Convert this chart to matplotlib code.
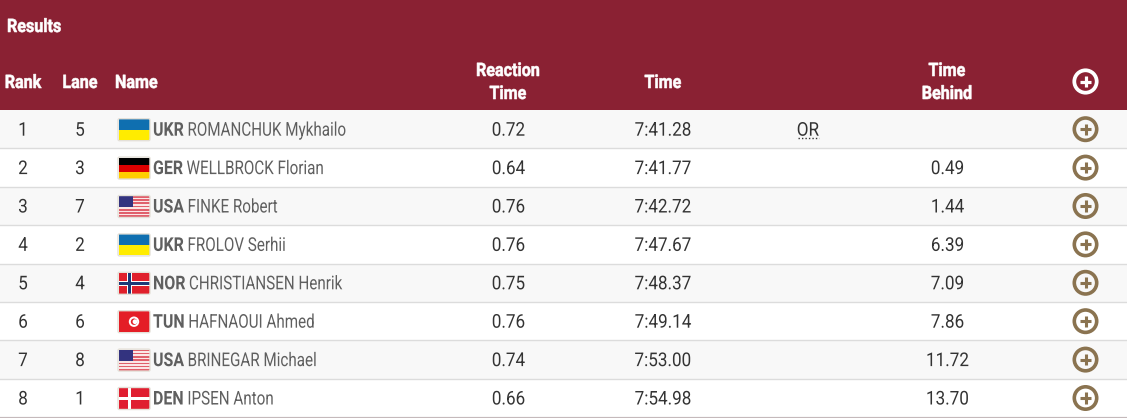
import matplotlib
matplotlib.use("Agg")
import matplotlib.pyplot as plt
from matplotlib.patches import Rectangle, Circle, FancyBboxPatch
from matplotlib.patheffects import AbstractPathEffect
from matplotlib.transforms import Affine2D

ranks = [1, 2, 3, 4, 5, 6, 7, 8]
lanes = [5, 3, 7, 2, 4, 6, 8, 1]
nocs = ["UKR", "GER", "USA", "UKR", "NOR", "TUN", "USA", "DEN"]
names = ["ROMANCHUK Mykhailo", "WELLBROCK Florian", "FINKE Robert", "FROLOV Serhii",
         "CHRISTIANSEN Henrik", "HAFNAOUI Ahmed", "BRINEGAR Michael", "IPSEN Anton"]
reaction = ["0.72", "0.64", "0.76", "0.76", "0.75", "0.76", "0.74", "0.66"]
times = ["7:41.28", "7:41.77", "7:42.72", "7:47.67", "7:48.37", "7:49.14", "7:53.00", "7:54.98"]
notes = ["OR", "", "", "", "", "", "", ""]
behind = ["", "0.49", "1.44", "6.39", "7.09", "7.86", "11.72", "13.70"]

MAROON = "#8a2133"
GOLD = "#8a7350"
TEXT = "#333333"
GREY = "#5f5f5f"
plt.rcParams["font.family"] = ["Roboto", "DejaVu Sans"]

W, H = 1127, 418
fig = plt.figure(figsize=(W / 100, H / 100), dpi=100)
ax = fig.add_axes([0, 0, 1, 1])
ax.set_xlim(0, W)
ax.set_ylim(H, 0)
ax.axis("off")
rend = fig.canvas.get_renderer()


class Condense(AbstractPathEffect):
    """Narrow the glyphs horizontally about the text's left edge, optionally thickening them."""
    def __init__(self, sx, stroke=0.0):
        super().__init__()
        self.sx = sx
        self.stroke = stroke

    def draw_path(self, renderer, gc, tpath, affine, rgbFace=None):
        gc0 = renderer.new_gc()
        gc0.copy_properties(gc)
        gc0.set_linewidth(self.stroke)
        gc0.set_foreground(rgbFace)
        renderer.draw_path(gc0, tpath, Affine2D().scale(self.sx, 1) + affine, rgbFace)
        gc0.restore()


def px(p):
    return p * 0.72


def label(x, y, s, size, sx, color, weight="normal", ha="left", stroke=0.0):
    """Real text, narrowed by sx; returns the right edge of what is drawn."""
    t = ax.text(x, y, s, ha="left", va="center", fontsize=px(size), color=color,
                fontweight=weight, zorder=5, path_effects=[Condense(sx, stroke)])
    width = t.get_window_extent(rend).width * sx
    if ha == "center":
        t.set_x(x - width / 2)
        return x + width / 2
    return x + width


def rect(x, y, w, h, c, z=3):
    ax.add_patch(Rectangle((x, y), w, h, fc=c, ec="none", zorder=z))


def flag(noc, x, y):
    w, h = 31, 21
    if noc == "UKR":
        rect(x, y, w, h / 2, "#0f6fb0")
        rect(x, y + h / 2, w, h / 2, "#ffec00")
    elif noc == "GER":
        rect(x, y, w, h / 3, "#000000")
        rect(x, y + h / 3, w, h / 3, "#dd0000")
        rect(x, y + 2 * h / 3, w, h / 3, "#ffce00")
    elif noc == "USA":
        for i in range(13):
            rect(x, y + i * h / 13, w, h / 13, "#e0606c" if i % 2 == 0 else "#fbe6e6")
        rect(x, y, 14, 11, "#33337f", 4)
    elif noc == "NOR":
        rect(x, y, w, h, "#e0202c")
        rect(x + 8.5, y, 5, h, "#ffffff", 4)
        rect(x, y + 8, w, 5, "#ffffff", 4)
        rect(x + 9.7, y, 2.6, h, "#1c3a78", 5)
        rect(x, y + 9.2, w, 2.6, "#1c3a78", 5)
    elif noc == "TUN":
        rect(x, y, w, h, "#e41e26")
        ax.add_patch(Circle((x + w / 2, y + h / 2), 5.2, fc="#ffffff", ec="none", zorder=4))
        ax.add_patch(Circle((x + w / 2, y + h / 2), 3.2, fc="#e41e26", ec="none", zorder=5))
        ax.add_patch(Circle((x + w / 2 + 1, y + h / 2), 2.4, fc="#ffffff", ec="none", zorder=6))
    elif noc == "DEN":
        rect(x, y, w, h, "#e01e30")
        rect(x + 9, y, 3.5, h, "#ffffff", 4)
        rect(x, y + 8.7, w, 3.5, "#ffffff", 4)
    ax.add_patch(FancyBboxPatch((x - 0.5, y - 0.5), w + 1, h + 1, boxstyle="round,pad=0,rounding_size=1.5",
                                fc="none", ec="#e4e0d8", lw=1, zorder=7))


def plus(cx, cy, r, col, lw):
    ax.add_patch(Circle((cx, cy), r, fc="none", ec=col, lw=lw, zorder=4))
    ax.plot([cx - r * .5, cx + r * .5], [cy, cy], color=col, lw=lw * .85, solid_capstyle="butt", zorder=4)
    ax.plot([cx, cx], [cy - r * .5, cy + r * .5], color=col, lw=lw * .85, solid_capstyle="butt", zorder=4)


# header
rect(0, 0, W, 110, MAROON, 1)
HS, HX = 18.5, 0.87
def head(x, y, s, ha="center"):
    label(x, y, s, HS, HX, "white", "bold", ha, stroke=0.4)

head(7, 27, "Results", "left")
head(23, 83, "Rank")
head(80, 83, "Lane")
head(115, 83, "Name", "left")
head(508, 71, "Reaction")
head(508, 94, "Time")
head(663, 83, "Time")
head(947, 71, "Time")
head(947, 94, "Behind")
plus(1085.5, 81.5, 11.2, "white", 2.7)

# rows
y0, rh = 110.0, 38.4
FS, NX, TX = 19, 0.80, 0.90
for i in range(len(ranks)):
    top = y0 + i * rh
    cy = top + rh / 2 + 0.5
    ty = cy + 1
    rect(0, top, W, rh, "#f8f8f8" if i % 2 == 0 else "#ffffff", 1)
    ax.plot([0, W], [top + rh, top + rh], color="#dcdcdc", lw=1, zorder=2)
    label(23, ty, str(ranks[i]), FS, TX, TEXT, ha="center")
    label(80, ty, str(lanes[i]), FS, TX, TEXT, ha="center")
    flag(nocs[i], 118.5, cy - 10.5)
    right = label(153, ty, nocs[i], FS, 0.84, GREY, "bold")
    label(right + 3.5, ty, names[i], FS, NX, GREY)
    label(508.5, ty, reaction[i], FS, TX, TEXT, ha="center")
    label(663, ty, times[i], FS, TX, TEXT, ha="center")
    if notes[i]:
        label(808, ty, notes[i], FS, TX, TEXT, ha="center")
        ax.plot([798, 819], [cy + 8, cy + 8], color=TEXT, lw=1, ls=(0, (1, 1.5)), zorder=5)
    if behind[i]:
        label(947.5, ty, behind[i], FS, TX, TEXT, ha="center")
    plus(1085.5, cy - 0.5, 11.2, GOLD, 2.6)

ax.plot([0, W], [417.5, 417.5], color="#6a2a35", lw=1, zorder=6)
fig.savefig("out.png", dpi=100)
